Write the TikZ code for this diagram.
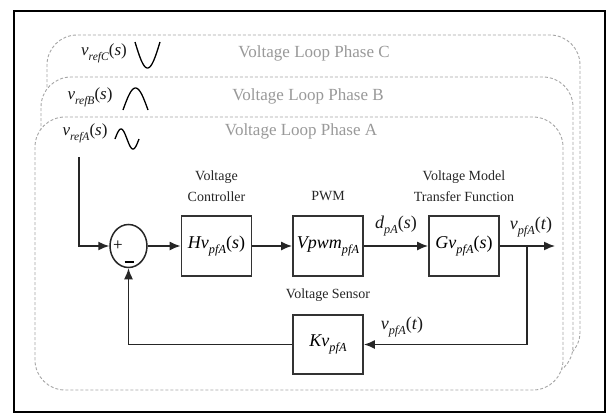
\documentclass[tikz,border=0pt]{standalone}
\usepackage{fontspec}
\usepackage{graphicx}
\setmainfont{Liberation Serif}
\usetikzlibrary{arrows.meta,shapes.geometric}
\newcommand{\sbs}[1]{\raisebox{-0.28em}{\scalebox{0.68}{\textit{#1}}}}
\begin{document}
\begin{tikzpicture}[x=1pt,y=-1pt,
  phase/.style={draw=black!35,dashed,dash pattern=on 3pt off 2pt,line width=0.9pt,rounded corners=30pt,fill=white},
  phasetxt/.style={text=black!40,font=\fontsize{17}{20}\selectfont,inner sep=0pt},
  reftxt/.style={text=black!90,font=\fontsize{17}{20}\selectfont,inner sep=0pt},
  blk/.style={draw=black!80,line width=1.8pt,minimum width=70pt,minimum height=60pt,inner sep=0pt,font=\fontsize{18}{21}\selectfont,fill=white},
  captxt/.style={font=\fontsize{14}{21}\selectfont,align=center,inner sep=0pt,text=black!85},
  sig/.style={font=\fontsize{18}{21}\selectfont,inner sep=0pt,text=black!90},
  ln/.style={draw=black!85,line width=1.5pt},
  arr/.style={ln,-{Latex[length=11pt,width=9pt]}},
  wave/.style={draw=black,line width=1.3pt}]
\useasboundingbox (0,0) rectangle (609,415);
\fill[white] (0,0) rectangle (609,415);
\draw[line width=2pt,black] (14,11) rectangle (605,412);
% phase frames
\draw[phase] (47,362) -- (47,35) -- (580,35) -- (580,362) -- cycle;
\draw[phase] (41,376) -- (41,77) -- (573,77) -- (573,376) -- cycle;
\draw[phase] (35,390) -- (35,117) -- (563,117) -- (563,390) -- cycle;
\node[phasetxt] (tC) at (314,53) {Voltage Loop Phase C};
\node[phasetxt] (tB) at (308,96) {Voltage Loop Phase B};
\node[phasetxt] (tA) at (301,131) {Voltage Loop Phase A};
% references
\node[reftxt] (rC) at (104,53) {\textit{v}\sbs{refC}(\textit{s})};
\node[reftxt] (rB) at (90,97) {\textit{v}\sbs{refB}(\textit{s})};
\node[reftxt] (rA) at (85,133) {\textit{v}\sbs{refA}(\textit{s})};
\draw[wave] plot[domain=0:180,samples=40] ({135+25*\x/180},{42+26*sin(\x)});
\draw[wave] plot[domain=0:180,samples=40] ({123+25*\x/180},{110-22*sin(\x)});
\draw[wave] plot[domain=0:360,samples=60] ({115+24*\x/360},{139-10*sin(\x)});
% blocks
\node[ellipse,draw=black!85,line width=1.5pt,minimum width=37pt,minimum height=43pt,inner sep=0pt] (sum) at (128.5,246) {};
\node[font=\fontsize{17}{20}\selectfont,inner sep=0pt] (plus) at (118,246) {+};
\node[inner sep=0pt] (minus) at (129,262) {\rule{9pt}{1.3pt}};
\node[blk] (H) at (216.5,246) {\textit{Hv}\sbs{pfA}(\textit{s})};
\node[blk] (P) at (328,246) {\textit{Vpwm}\sbs{pfA}};
\node[blk] (G) at (464,246) {\textit{Gv}\sbs{pfA}(\textit{s})};
\node[blk,minimum height=59pt] (K) at (328,344.5) {\textit{Kv}\sbs{pfA}};
\node[captxt] (cH) at (216.5,186) {Voltage\\Controller};
\node[captxt] (cP) at (328,196) {PWM};
\node[captxt] (cG) at (464,186) {Voltage Model\\Transfer Function};
\node[captxt] (cK) at (328,295) {Voltage Sensor};
\node[sig] (lD) at (396,226) {\textit{d}\sbs{pA}(\textit{s})};
\node[sig] (lV) at (531,227) {\textit{v}\sbs{pfA}(\textit{t})};
\node[sig] (lF) at (402,327) {\textit{v}\sbs{pfA}(\textit{t})};
% connectors
\coordinate (refA) at (79,157);
\coordinate (br) at (527,246);
\coordinate (out) at (555,246);
\draw[arr] (refA) |- (sum.west);
\draw[arr] (sum.east) -- (H.west);
\draw[arr] (H.east) -- (P.west);
\draw[arr] (P.east) -- (G.west);
\draw[arr] (G.east) -- (out);
\draw[arr] (br) |- (K.east);
\draw[arr] (K.west) -| (sum.south);
\end{tikzpicture}
\end{document}
